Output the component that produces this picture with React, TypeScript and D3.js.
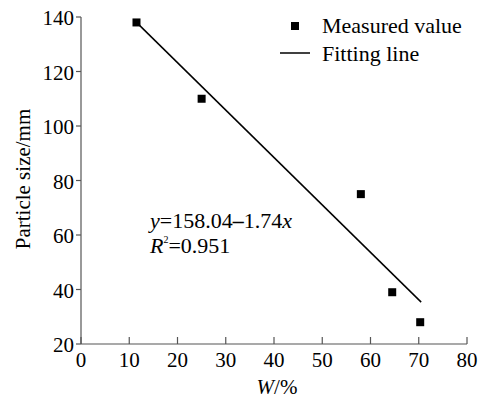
import React from 'react';
import * as d3 from 'd3';

// measured points
const wValues = [11.5, 25, 58, 64.5, 70.3];
const particleSize = [138, 110, 75, 39, 28];
const xTicks = [0, 10, 20, 30, 40, 50, 60, 70, 80];
const yTicks = [20, 40, 60, 80, 100, 120, 140];
const fitRange = [11.5, 70.5];
const fitA = 158.04;
const fitB = -1.74;

const W = 485;
const H = 400;
const FONT = "'Liberation Serif', 'Times New Roman', Times, serif";
const FS = 21;

export default function App() {
  const x = d3.scaleLinear().domain([0, 80]).range([81, 467]);
  const y = d3.scaleLinear().domain([20, 140]).range([344, 17]);
  const axisColor = '#555';

  const fitLine = d3
    .line<number>()
    .x(d => x(d))
    .y(d => y(fitA + fitB * d));

  return (
    <svg width={W} height={H} style={{ position: 'absolute', left: 0, top: 0, background: '#fff', fontFamily: FONT }}>
      {/* axes */}
      <line x1={x(0)} x2={x(0)} y1={y(140)} y2={y(20)} stroke={axisColor} strokeWidth={1.2} />
      <line x1={x(0)} x2={x(80)} y1={y(20)} y2={y(20)} stroke={axisColor} strokeWidth={1.2} />
      {yTicks.map(t => (
        <g key={'y' + t}>
          <line x1={x(0) - 5} x2={x(0)} y1={y(t)} y2={y(t)} stroke={axisColor} strokeWidth={1.2} />
          <text x={x(0) - 7} y={y(t) + 8} textAnchor="end" fontSize={FS} fill="#000">
            {t}
          </text>
        </g>
      ))}
      {xTicks.map(t => (
        <g key={'x' + t}>
          <line x1={x(t)} x2={x(t)} y1={y(20)} y2={y(20) - 7} stroke={axisColor} strokeWidth={1.2} />
          <text x={x(t)} y={367} textAnchor="middle" fontSize={FS} fill="#000">
            {t}
          </text>
        </g>
      ))}

      {/* axis titles */}
      <text transform={`translate(30,179) rotate(-90)`} textAnchor="middle" fontSize={FS} fill="#000">
        Particle size/mm
      </text>
      <text x={277} y={394} textAnchor="middle" fontSize={FS} fill="#000">
        <tspan fontStyle="italic">W</tspan>/%
      </text>

      {/* fit */}
      <path d={fitLine(fitRange) || ''} fill="none" stroke="#000" strokeWidth={1.5} />

      {/* points */}
      {wValues.map((w, i) => (
        <rect key={i} x={x(w) - 4} y={y(particleSize[i]) - 4} width={8} height={8} fill="#000" />
      ))}

      {/* equation */}
      <text x={150} y={228} fontSize={22} fill="#000">
        <tspan fontStyle="italic">y</tspan>=158.04<tspan fontWeight="bold">–</tspan>1.74<tspan fontStyle="italic">x</tspan>
      </text>
      <text x={150} y={253} fontSize={22} fill="#000">
        <tspan fontStyle="italic">R</tspan>
        <tspan fontSize={10} dy={-10}>2</tspan>
        <tspan dy={10}>=0.951</tspan>
      </text>

      {/* legend */}
      <rect x={291} y={22} width={8} height={8} fill="#000" />
      <text x={322} y={33} fontSize={22} fill="#000">Measured value</text>
      <line x1={280} x2={310} y1={53} y2={53} stroke="#000" strokeWidth={1.5} />
      <text x={322} y={61} fontSize={22} fill="#000">Fitting line</text>
    </svg>
  );
}
